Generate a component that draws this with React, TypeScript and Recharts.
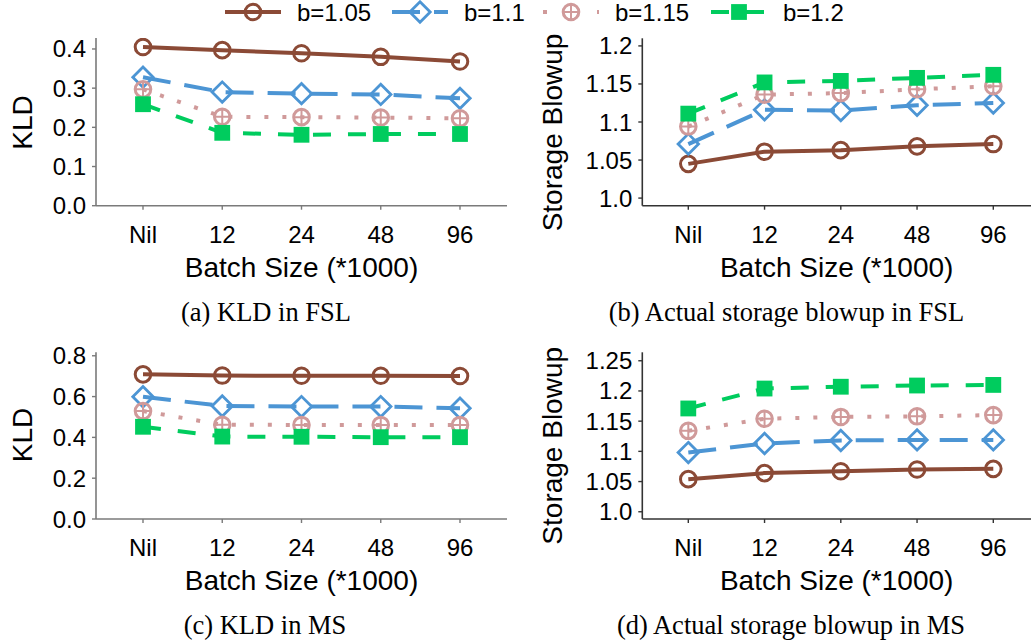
import React from 'react';
import { LineChart, Line, XAxis, YAxis, Label } from 'recharts';

// ---------------- data ----------------
const categories = ['Nil', '12', '24', '48', '96'];
const seriesNames = ['b=1.05', 'b=1.1', 'b=1.15', 'b=1.2'];

// (a) KLD in FSL
const fslKld105 = [0.405, 0.397, 0.389, 0.380, 0.368];
const fslKld11 = [0.328, 0.290, 0.286, 0.284, 0.274];
const fslKld115 = [0.297, 0.227, 0.226, 0.225, 0.223];
const fslKld12 = [0.259, 0.186, 0.181, 0.183, 0.183];

// (b) Actual storage blowup in FSL
const fslBlow105 = [1.045, 1.061, 1.063, 1.068, 1.071];
const fslBlow11 = [1.071, 1.116, 1.115, 1.122, 1.125];
const fslBlow115 = [1.094, 1.136, 1.138, 1.143, 1.147];
const fslBlow12 = [1.111, 1.152, 1.154, 1.158, 1.162];

// (c) KLD in MS
const msKld105 = [0.709, 0.703, 0.702, 0.702, 0.701];
const msKld11 = [0.599, 0.554, 0.551, 0.551, 0.543];
const msKld115 = [0.529, 0.462, 0.461, 0.461, 0.461];
const msKld12 = [0.452, 0.404, 0.403, 0.401, 0.401];

// (d) Actual storage blowup in MS
const msBlow105 = [1.054, 1.064, 1.067, 1.070, 1.071];
const msBlow11 = [1.098, 1.113, 1.118, 1.119, 1.119];
const msBlow115 = [1.134, 1.154, 1.157, 1.158, 1.160];
const msBlow12 = [1.171, 1.204, 1.207, 1.209, 1.210];

// ticks
const kldFslTicks = [0, 0.1, 0.2, 0.3, 0.4];
const kldFslTickLabels = ['0.0', '0.1', '0.2', '0.3', '0.4'];
const blowFslTicks = [1.0, 1.05, 1.1, 1.15, 1.2];
const blowFslTickLabels = ['1.0', '1.05', '1.1', '1.15', '1.2'];
const kldMsTicks = [0, 0.2, 0.4, 0.6, 0.8];
const kldMsTickLabels = ['0.0', '0.2', '0.4', '0.6', '0.8'];
const blowMsTicks = [1.0, 1.05, 1.1, 1.15, 1.2, 1.25];
const blowMsTickLabels = ['1.0', '1.05', '1.1', '1.15', '1.2', '1.25'];

const xAxisTitle = 'Batch Size (*1000)';
const kldTitle = 'KLD';
const blowTitle = 'Storage Blowup';
const captions = [
  '(a) KLD in FSL',
  '(b) Actual storage blowup in FSL',
  '(c) KLD in MS',
  '(d) Actual storage blowup in MS',
];

// ---------------- styles ----------------
const SANS = '"Liberation Sans", Arial, Helvetica, sans-serif';
const SERIF = '"Liberation Serif", "Times New Roman", serif';

type Kind = 'circle' | 'diamond' | 'oplus' | 'square';
const seriesStyles: { color: string; dash?: string; legendDash?: string; kind: Kind }[] = [
  { color: '#8B4A36', kind: 'circle' },
  { color: '#4C95D4', dash: '28 14', legendDash: '28 14', kind: 'diamond' },
  { color: '#D09A9A', dash: '4 14', legendDash: '4 50', kind: 'oplus' },
  { color: '#00CC5E', dash: '18 17', legendDash: '18 17', kind: 'square' },
];

function Marker({ kind, cx, cy, color }: { kind: Kind; cx: number; cy: number; color: string }) {
  if (cx == null || cy == null || isNaN(cx) || isNaN(cy)) return <g />;
  if (kind === 'circle') {
    return <circle cx={cx} cy={cy} r={7.8} fill="none" stroke={color} strokeWidth={3} />;
  }
  if (kind === 'diamond') {
    const h = 10.2;
    return (
      <path
        d={`M${cx},${cy - h} L${cx + h},${cy} L${cx},${cy + h} L${cx - h},${cy} Z`}
        fill="none"
        stroke={color}
        strokeWidth={2.8}
      />
    );
  }
  if (kind === 'oplus') {
    const r = 7.8;
    return (
      <g>
        <circle cx={cx} cy={cy} r={r} fill="none" stroke={color} strokeWidth={3} />
        <line x1={cx - r} y1={cy} x2={cx + r} y2={cy} stroke={color} strokeWidth={2} />
        <line x1={cx} y1={cy - r} x2={cx} y2={cy + r} stroke={color} strokeWidth={2} />
      </g>
    );
  }
  const s = 15.8;
  return <rect x={cx - s / 2} y={cy - s / 2} width={s} height={s} fill={color} />;
}

function buildData(series: number[][]) {
  return categories.map((c, i) => {
    const row: Record<string, number | string> = { cat: c };
    series.forEach((s, k) => {
      row[`s${k}`] = s[i];
    });
    return row;
  });
}

type PanelProps = {
  left: number;
  top: number;
  width: number;
  height: number;
  plotLeft: number;
  plotTop: number;
  plotRight: number;
  plotBottom: number;
  padL: number;
  padR: number;
  series: number[][];
  yDomain: [number, number];
  yTicks: number[];
  yTickLabels: string[];
  yTitle: string;
  yTitleX: number;
  yTitleCY: number;
  axisColor: string;
};

function Panel(p: PanelProps) {
  const data = buildData(p.series);
  const xAxisH = 80;
  const margin = {
    top: p.plotTop - p.top,
    left: 0,
    right: p.left + p.width - p.plotRight,
    bottom: p.top + p.height - p.plotBottom - xAxisH,
  };
  const fmt = (v: number) => {
    const idx = p.yTicks.findIndex((t) => Math.abs(t - v) < 1e-9);
    return idx >= 0 ? p.yTickLabels[idx] : String(v);
  };
  const tickStyle = { fontSize: 24, fill: '#000', fontFamily: SANS };
  return (
    <div style={{ position: 'absolute', left: p.left, top: p.top, width: p.width, height: p.height }}>
      <LineChart width={p.width} height={p.height} data={data} margin={margin} style={{ overflow: 'visible' }}>
        <XAxis
          dataKey="cat"
          type="category"
          interval={0}
          padding={{ left: p.padL, right: p.padR }}
          height={xAxisH}
          tickSize={4}
          tickMargin={16}
          tick={tickStyle}
          axisLine={{ stroke: p.axisColor, strokeWidth: 1.6 }}
          tickLine={{ stroke: p.axisColor, strokeWidth: 1.4 }}
        >
          <Label
            content={(lp: any) => {
              const vb = lp.viewBox || {};
              return (
                <text
                  x={vb.x + vb.width / 2}
                  y={vb.y + 71}
                  textAnchor="middle"
                  fontSize={28}
                  fontFamily={SANS}
                  fill="#000"
                >
                  {xAxisTitle}
                </text>
              );
            }}
          />
        </XAxis>
        <YAxis
          type="number"
          domain={p.yDomain}
          ticks={p.yTicks}
          allowDataOverflow
          interval={0}
          width={p.plotLeft - p.left}
          tickSize={4}
          tickMargin={6}
          tick={tickStyle}
          tickFormatter={fmt}
          axisLine={{ stroke: p.axisColor, strokeWidth: 1.6 }}
          tickLine={{ stroke: p.axisColor, strokeWidth: 1.4 }}
        >
          <Label
            content={() => (
              <text
                x={p.yTitleX}
                y={p.yTitleCY}
                transform={`rotate(-90, ${p.yTitleX}, ${p.yTitleCY})`}
                textAnchor="middle"
                fontSize={28}
                fontFamily={SANS}
                fill="#000"
              >
                {p.yTitle}
              </text>
            )}
          />
        </YAxis>
        {seriesStyles.map((st, k) => (
          <Line
            key={k}
            type="linear"
            dataKey={`s${k}`}
            name={seriesNames[k]}
            stroke={st.color}
            strokeWidth={4}
            strokeDasharray={st.dash}
            isAnimationActive={false}
            activeDot={false}
            dot={(dp: any) => (
              <Marker key={`m${k}-${dp.index}`} kind={st.kind} cx={dp.cx} cy={dp.cy} color={st.color} />
            )}
          />
        ))}
      </LineChart>
    </div>
  );
}

function LegendBar() {
  const starts = [225, 392, 543, 711];
  const len = 56;
  const cy = 12;
  return (
    <svg width={1032} height={30} style={{ position: 'absolute', left: 0, top: 0 }}>
      {seriesStyles.map((st, k) => {
        const x0 = starts[k];
        return (
          <g key={k}>
            <line
              x1={x0}
              y1={cy}
              x2={x0 + len}
              y2={cy}
              stroke={st.color}
              strokeWidth={4}
              strokeDasharray={st.legendDash}
            />
            <Marker kind={st.kind} cx={x0 + len / 2} cy={cy} color={st.color} />
            <text x={x0 + 72} y={cy + 8.5} fontSize={24} fontFamily={SANS} fill="#000">
              {seriesNames[k]}
            </text>
          </g>
        );
      })}
    </svg>
  );
}

function Captions() {
  const pos = [
    [266, 321],
    [786.5, 321],
    [265, 634],
    [791, 634],
  ];
  return (
    <svg width={1032} height={644} style={{ position: 'absolute', left: 0, top: 0 }}>
      {captions.map((c, i) => (
        <text key={i} x={pos[i][0]} y={pos[i][1]} textAnchor="middle" fontSize={26.5} fontFamily={SERIF} fill="#000">
          {c}
        </text>
      ))}
    </svg>
  );
}

export default function App() {
  return (
    <div
      style={{
        position: 'absolute',
        left: 0,
        top: 0,
        width: 1032,
        height: 644,
        overflow: 'hidden',
        background: '#fff',
        fontFamily: SANS,
      }}
    >
      <Captions />
      <Panel
        left={0}
        top={0}
        width={520}
        height={300}
        plotLeft={96}
        plotTop={38}
        plotRight={507}
        plotBottom={205.7}
        padL={47}
        padR={47}
        series={[fslKld105, fslKld11, fslKld115, fslKld12]}
        yDomain={[0, 0.428]}
        yTicks={kldFslTicks}
        yTickLabels={kldFslTickLabels}
        yTitle={kldTitle}
        yTitleX={32}
        yTitleCY={122.5}
        axisColor="#7a7a7a"
      />
      <Panel
        left={520}
        top={0}
        width={512}
        height={300}
        plotLeft={642.3}
        plotTop={38.3}
        plotRight={1031}
        plotBottom={205.7}
        padL={46}
        padR={37.7}
        series={[fslBlow105, fslBlow11, fslBlow115, fslBlow12]}
        yDomain={[0.99, 1.21]}
        yTicks={blowFslTicks}
        yTickLabels={blowFslTickLabels}
        yTitle={blowTitle}
        yTitleX={41.7}
        yTitleCY={132.5}
        axisColor="#333333"
      />
      <Panel
        left={0}
        top={314}
        width={520}
        height={300}
        plotLeft={96}
        plotTop={352.3}
        plotRight={507}
        plotBottom={519}
        padL={47}
        padR={47}
        series={[msKld105, msKld11, msKld115, msKld12]}
        yDomain={[0, 0.817]}
        yTicks={kldMsTicks}
        yTickLabels={kldMsTickLabels}
        yTitle={kldTitle}
        yTitleX={32}
        yTitleCY={435 - 314}
        axisColor="#7a7a7a"
      />
      <Panel
        left={520}
        top={314}
        width={512}
        height={300}
        plotLeft={642.3}
        plotTop={352.3}
        plotRight={1031}
        plotBottom={519}
        padL={46}
        padR={37.7}
        series={[msBlow105, msBlow11, msBlow115, msBlow12]}
        yDomain={[0.988, 1.264]}
        yTicks={blowMsTicks}
        yTickLabels={blowMsTickLabels}
        yTitle={blowTitle}
        yTitleX={41.7}
        yTitleCY={445.8 - 314}
        axisColor="#333333"
      />
      <LegendBar />
    </div>
  );
}
